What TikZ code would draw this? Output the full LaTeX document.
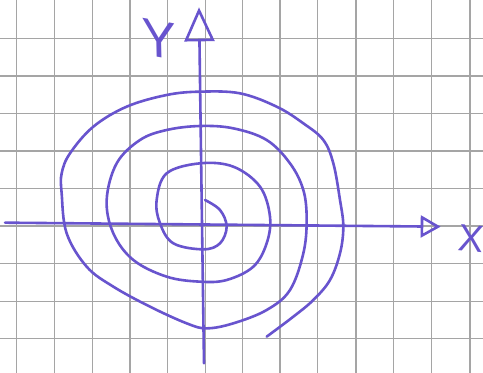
\documentclass[tikz,border=0pt]{standalone}
\usepackage{fontspec}
\setsansfont{Liberation Sans}
\usetikzlibrary{arrows.meta}
\definecolor{ink}{RGB}{104,84,206}
\definecolor{paper}{RGB}{165,165,165}

\begin{document}
\begin{tikzpicture}[x=0.16667pt, y=-0.16667pt,
 grid/.style={draw=paper, line width=0.55pt},
 pen/.style={draw=ink, line width=1.3pt, line cap=round, line join=round},
 letter/.style={text=ink, font=\sffamily}]
\useasboundingbox[fill=white] (0,0) rectangle (1449,1119);
% squared paper
\foreach \gx in {50,163,277,390,503,617,727,840,953,1068,1180,1295,1410}
 \draw[grid] (\gx,0) -- (\gx,1119);
\foreach \gy in {115,228,340,453,565,678,790,905,1015}
 \draw[grid] (0,\gy) -- (1449,\gy);
% axes
\coordinate (xstart) at (15,668);
\coordinate (xend) at (1322,680);
\coordinate (ystart) at (612,1090);
\coordinate (yend) at (597,22);
\draw[pen, -{Triangle[open,length=10pt,width=11pt]}] (xstart) -- (xend);
\draw[pen, -{Triangle[open,length=17pt,width=15pt]}] (ystart) -- (605,600) -- (yend);
\node[letter, font=\sffamily\fontsize{26}{26}\selectfont, rotate=-10, xslant=-0.2] (ylabel) at (478,118) {Y};
\node[letter, font=\sffamily\fontsize{19}{19}\selectfont, rotate=-5] (xlabel) at (1415,716) {X};
% spiral
\draw[pen] plot[smooth, tension=0.6] coordinates {
 (615,600) (660,630) (680,680) (660,730) (610,748) (520,730) (480,670)
 (470,600) (500,520) (600,490) (700,500) (780,560) (810,650) (800,730)
 (760,800) (680,840) (600,845) (500,830) (400,780) (340,700) (320,600)
 (350,490) (420,420) (500,390) (600,378) (700,385) (800,420) (870,490)
 (910,570) (920,660) (910,760) (870,870) (800,930) (700,970) (620,985)
 (560,970) (450,920) (340,860) (260,800) (200,700) (185,580) (185,520)
 (210,460) (280,380) (380,320) (500,285) (600,275) (720,280) (830,320)
 (910,370) (970,420) (1000,490) (1020,600) (1030,680) (1020,760)
 (990,840) (940,900) (880,950) (800,1010)};
\end{tikzpicture}
\end{document}
